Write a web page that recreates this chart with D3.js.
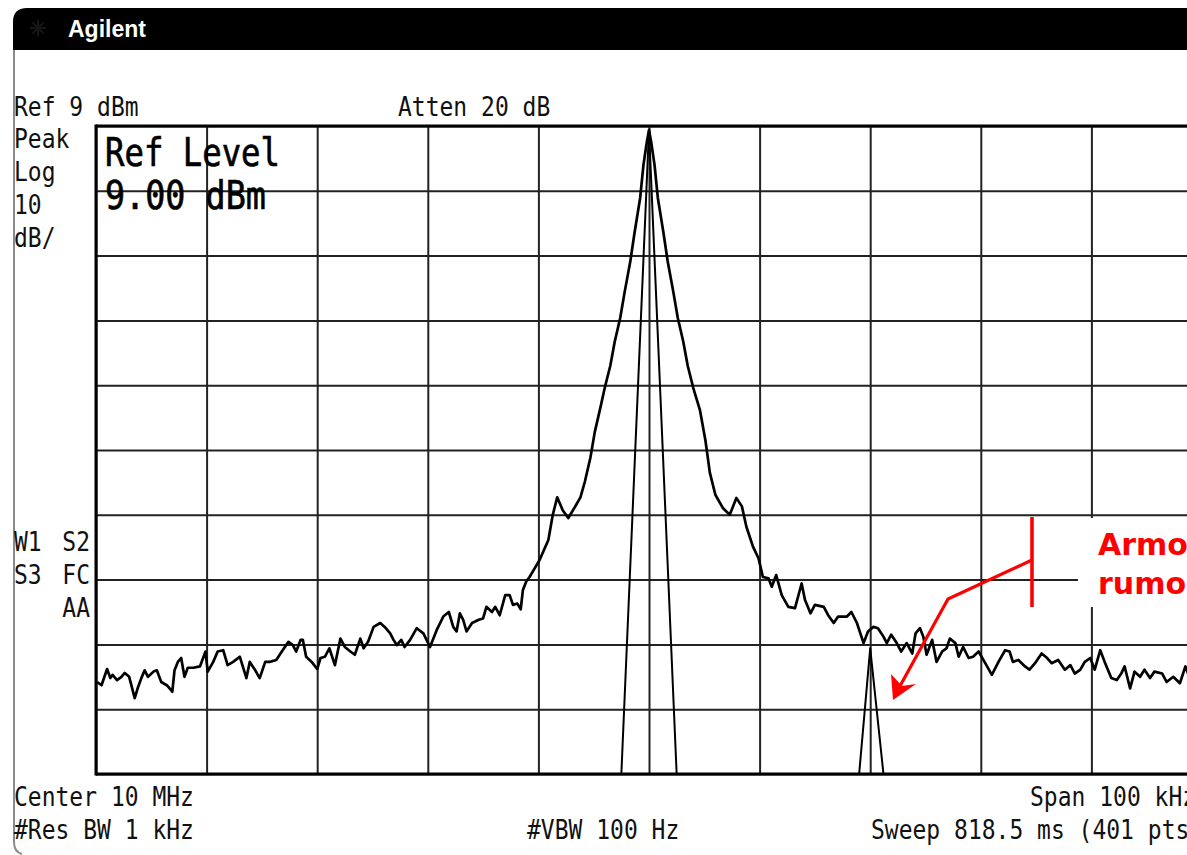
<!DOCTYPE html>
<html><head><meta charset="utf-8">
<script src="https://cdn.jsdelivr.net/npm/d3@7"></script>
<style>html,body{margin:0;padding:0;background:#fff;}svg{display:block;}</style>
</head><body>
<svg id="chart" width="1187" height="855"></svg>
<script>
// ---- instrument settings ----
const centerMHz = 10;
const spanKHz = 100;
const refDbm = 9;
const dbPerDiv = 10;
const divisions = 10;

// ---- measured trace (frequency offset from centre, kHz ; level, dBm) ----
const traceFreq = [
-49.9,-49.5,-49.0,-48.7,-48.5,-48.1,-47.7,-47.4,-47.0,-46.5,-46.2,-45.9,-45.6,-45.3,-44.8,-44.5,-44.1,-43.6,-43.1,-42.9,
-42.6,-42.3,-42.0,-41.7,-41.2,-40.6,-40.1,-39.9,-39.4,-39.0,-38.5,-38.1,-37.6,-37.0,-36.4,-36.1,-35.6,-35.2,-34.7,-34.3,
-33.7,-33.2,-32.6,-32.2,-31.9,-31.5,-31.3,-31.0,-30.5,-30.0,-29.7,-29.3,-28.9,-28.4,-27.9,-27.5,-27.0,-26.6,-26.1,-25.8,
-25.4,-24.9,-24.3,-23.9,-23.4,-23.1,-22.8,-22.4,-22.1,-21.6,-21.0,-20.4,-19.8,-19.2,-18.6,-18.1,-17.7,-17.4,-17.1,-16.8,
-16.5,-16.0,-15.4,-15.0,-14.7,-14.2,-13.9,-13.5,-13.0,-12.6,-12.3,-11.9,-11.6,-11.4,-11.1,-10.8,-9.9,-9.1,-8.7,-8.3,
-7.8,-7.3,-6.7,-6.2,-5.8,-5.3,-4.9,-4.4,-4.0,-3.5,-3.1,-2.6,-2.2,-1.7,-1.3,-0.8,-0.5,-0.2,0.0,0.2,
0.5,0.8,1.3,1.7,2.2,2.6,3.1,3.5,4.0,4.6,5.1,5.5,6.0,6.7,7.3,7.9,8.4,8.8,9.4,9.9,
10.3,10.8,11.1,11.5,12.0,12.6,13.2,13.8,14.1,14.6,15.0,15.8,16.2,16.7,17.1,17.9,18.3,18.8,19.4,19.8,
20.3,20.7,21.2,21.5,21.9,22.4,22.8,23.3,23.8,24.1,24.5,24.8,25.1,25.6,26.0,26.5,26.9,27.2,27.7,28.0,
28.4,28.9,29.3,29.8,30.4,31.0,31.6,32.2,32.6,32.9,33.4,34.0,34.4,34.9,35.5,36.0,36.4,37.0,37.6,38.1,
38.5,39.0,39.4,39.9,40.3,40.8,41.2,41.8,42.3,42.7,43.0,43.5,43.9,44.4,44.8,45.3,45.7,46.4,46.8,47.4,
48.0,48.5,48.9,49.5,50.0];
const traceLevel = [
-76.8,-77.3,-74.8,-76.2,-75.7,-76.5,-76.0,-75.4,-76.0,-79.3,-77.6,-76.2,-75.0,-76.0,-75.2,-75.0,-76.8,-77.3,-78.3,-75.0,
-73.7,-73.1,-76.0,-74.6,-74.6,-74.4,-72.1,-75.2,-73.7,-72.1,-71.9,-74.2,-73.7,-72.9,-76.2,-73.7,-75.0,-76.2,-73.7,-73.7,
-73.4,-72.1,-70.6,-71.1,-72.1,-70.3,-70.3,-72.9,-73.7,-74.8,-73.1,-72.9,-71.6,-74.2,-70.1,-71.4,-72.1,-72.6,-70.1,-71.6,
-70.6,-68.3,-67.7,-68.3,-69.3,-70.3,-71.1,-70.3,-71.4,-70.3,-68.5,-69.3,-71.4,-68.8,-66.7,-66.0,-68.3,-69.0,-66.2,-67.2,
-69.0,-67.7,-67.2,-67.0,-65.2,-66.0,-65.2,-66.5,-63.4,-63.4,-64.9,-64.7,-65.6,-62.6,-61.3,-60.6,-58.0,-54.9,-51.0,-48.3,
-50.3,-51.5,-49.8,-48.3,-45.9,-42.2,-38.2,-34.5,-31.4,-28.0,-24.3,-20.6,-16.6,-12.0,-7.4,-2.1,3.0,6.5,8.4,6.5,
3.0,-2.1,-7.4,-12.0,-16.6,-20.6,-24.3,-28.0,-31.4,-34.8,-39.5,-44.5,-47.9,-50.0,-51.0,-48.4,-49.7,-52.8,-55.9,-57.7,
-60.6,-60.8,-62.1,-60.3,-63.4,-65.2,-65.4,-61.6,-64.1,-66.2,-64.9,-65.2,-66.5,-67.7,-66.7,-66.7,-66.0,-67.7,-70.8,-69.0,
-68.3,-68.5,-69.8,-70.8,-69.5,-70.8,-72.1,-70.8,-72.4,-69.3,-68.5,-69.8,-72.6,-70.3,-73.7,-72.1,-71.6,-70.1,-70.8,-72.9,
-71.4,-73.1,-72.9,-72.1,-73.9,-75.7,-73.7,-71.9,-72.1,-73.7,-73.4,-74.4,-74.9,-73.9,-72.4,-73.1,-73.9,-73.4,-74.9,-74.2,
-75.5,-74.9,-73.7,-73.1,-74.9,-71.9,-73.7,-76.2,-76.5,-75.5,-74.4,-77.8,-75.2,-76.0,-74.9,-76.2,-75.2,-75.5,-76.8,-76.0,
-77.0,-74.4,-76.2,-75.3,-75.9];

// ---- ideal (clean) spectrum trace: carrier and 2nd line ----
const carrierFreq = [-2.5, 0.0, 2.5];
const carrierLevel = [-91, 8.4, -91];
const harmonicFreq = [19.0, 20.0, 21.2];
const harmonicLevel = [-91, -71.6, -91];

// ---- texts ----
const titleText = "Agilent";
const topTexts = ["Ref 9 dBm", "Atten 20 dB"];
const scaleTexts = ["Peak", "Log", "10", "dB/"];
const statusLeft = ["W1", "S3", ""];
const statusRight = ["S2", "FC", "AA"];
const refLevelTexts = ["Ref Level", "9.00 dBm"];
const bottomTexts = ["Center 10 MHz", "Span 100 kHz", "#Res BW 1 kHz", "#VBW 100 Hz", "Sweep 818.5 ms (401 pts)"];
const noteTexts = ["Armonica", "rumore"];

// ---- drawing ----
const svg = d3.select("#chart");
const plot = {left: 96, top: 126, width: 1106, height: 648};
const bottomDbm = refDbm - dbPerDiv * divisions;

const x = d3.scaleLinear().domain([-spanKHz / 2, spanKHz / 2]).range([plot.left, plot.left + plot.width]);
const y = d3.scaleLinear().domain([bottomDbm, refDbm]).range([plot.top + plot.height, plot.top]);

svg.append("rect").attr("width", 1187).attr("height", 855).attr("fill", "#fff");

// title bar
svg.append("path")
  .attr("d", "M13,50 L13,22 Q13,8 27,8 L1200,8 L1200,50 Z")
  .attr("fill", "#000");
const ico = svg.append("g").attr("transform", "translate(38,28)").attr("stroke", "#161616").attr("stroke-width", 2);
[0, 45, 90, 135].forEach(a => ico.append("line").attr("x1", -8).attr("x2", 8).attr("transform", `rotate(${a})`));
svg.append("text").attr("x", 68).attr("y", 37)
  .attr("font-family", "Liberation Sans, Arial, sans-serif").attr("font-weight", "bold")
  .attr("font-size", 23).attr("fill", "#fff").text(titleText);

// outer frame (left side)
svg.append("path").attr("d", "M14,50 L14,842 Q14,852 22,854")
  .attr("fill", "none").attr("stroke", "#8a8a8a").attr("stroke-width", 2);

// grid through axes
const ticksX = d3.range(-spanKHz / 2, spanKHz / 2 + 0.001, spanKHz / divisions);
const ticksY = d3.range(bottomDbm, refDbm + 0.001, dbPerDiv);
const gx = svg.append("g").attr("transform", `translate(0,${plot.top + plot.height})`)
  .call(d3.axisBottom(x).tickValues(ticksX).tickSize(-plot.height).tickFormat(""));
const gy = svg.append("g").attr("transform", `translate(${plot.left},0)`)
  .call(d3.axisLeft(y).tickValues(ticksY).tickSize(-plot.width).tickFormat(""));
[gx, gy].forEach(g => {
  g.select(".domain").remove();
  g.selectAll("line").attr("stroke", "#222").attr("stroke-width", 2);
});

// frame borders
const fr = svg.append("g").attr("stroke", "#000").attr("stroke-width", 3).attr("fill", "none");
fr.append("line").attr("x1", x(-50)).attr("x2", x(-50)).attr("y1", y(refDbm) - 1.5).attr("y2", y(bottomDbm) + 1.5);
fr.append("line").attr("x1", x(-50)).attr("x2", x(50)).attr("y1", y(refDbm)).attr("y2", y(refDbm));
fr.append("line").attr("x1", x(-50)).attr("x2", x(50)).attr("y1", y(bottomDbm)).attr("y2", y(bottomDbm));

// clip
svg.append("clipPath").attr("id", "clip").append("rect")
  .attr("x", plot.left).attr("y", plot.top - 2).attr("width", plot.width).attr("height", plot.height + 2);

const line = d3.line().x(d => x(d[0])).y(d => y(d[1]));
const traces = svg.append("g").attr("clip-path", "url(#clip)").attr("fill", "none")
  .attr("stroke", "#000").attr("stroke-linejoin", "round");
traces.append("path").datum(carrierFreq.map((f, i) => [f, carrierLevel[i]]))
  .attr("d", line).attr("stroke-width", 2);
traces.append("path").datum(harmonicFreq.map((f, i) => [f, harmonicLevel[i]]))
  .attr("d", line).attr("stroke-width", 2);
traces.append("path").datum(traceFreq.map((f, i) => [f, traceLevel[i]]))
  .attr("d", line).attr("stroke-width", 2.7);

// instrument annotation text
function small(t, x0, y0, anchor) {
  svg.append("text").attr("transform", `translate(${x0},${y0}) scale(1,1.12)`)
    .attr("text-anchor", anchor || "start")
    .attr("font-family", "DejaVu Sans Mono, monospace").attr("font-size", 23)
    .attr("fill", "#111").text(t);
}
small(topTexts[0], 14, 116);
small(topTexts[1], 398, 116);
scaleTexts.forEach((t, i) => small(t, 14, 148 + i * 33));
statusLeft.forEach((t, i) => small(t, 14, 551 + i * 33));
statusRight.forEach((t, i) => small(t, 90, 551 + i * 33, "end"));
small(bottomTexts[0], 14, 806);
small(bottomTexts[1], 1030, 806);
small(bottomTexts[2], 14, 839);
small(bottomTexts[3], 527, 839);
small(bottomTexts[4], 871, 839);

function big(t, x0, y0, len) {
  const el = svg.append("text").attr("transform", `translate(${x0},${y0}) scale(1,1.2)`)
    .attr("font-family", "DejaVu Sans Mono, monospace").attr("font-size", 33)
    .attr("fill", "#000").attr("stroke", "#000").attr("stroke-width", 0.6).text(t);
  if (len) el.attr("textLength", len).attr("lengthAdjust", "spacingAndGlyphs");
}
big(refLevelTexts[0], 105, 166, 175);
big(refLevelTexts[1], 105, 209, 161);

// red annotation
const red = "#f00";
svg.append("rect").attr("x", 1078).attr("y", 518).attr("width", 130).attr("height", 89).attr("fill", "#fff");
noteTexts.forEach((t, i) => svg.append("text").attr("x", 1098).attr("y", 555 + i * 39)
  .attr("font-family", "DejaVu Sans, Verdana, sans-serif").attr("font-weight", "bold")
  .attr("font-size", 30).attr("fill", red).text(t));
const ann = svg.append("g").attr("stroke", red).attr("fill", "none").attr("stroke-width", 3.2);
ann.append("line").attr("x1", 1032).attr("x2", 1032).attr("y1", 517).attr("y2", 607).attr("stroke-width", 3.6);
ann.append("polyline").attr("points", "1032,560 948,599 900,686");
svg.append("path").attr("d", "M893,700 L891,674 L902,686 L916,684 Z").attr("fill", red);
</script>
</body></html>
